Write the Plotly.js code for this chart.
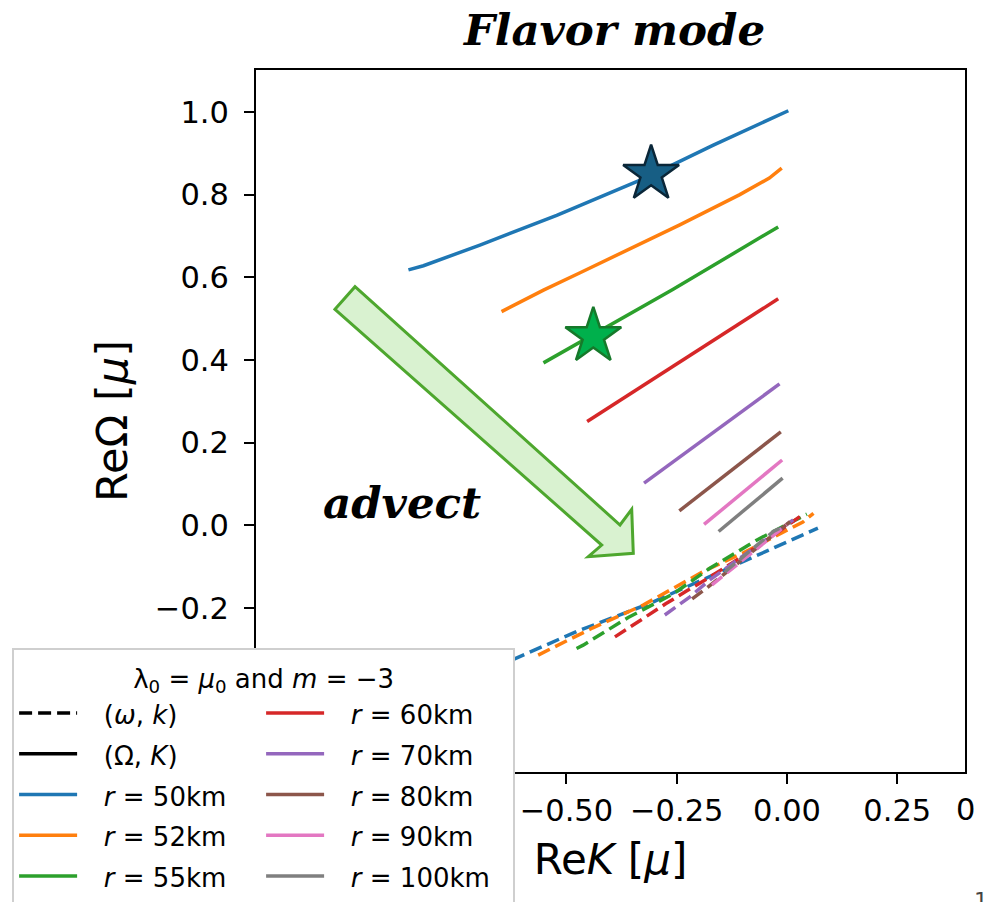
<!DOCTYPE html>
<html><head><meta charset="utf-8">
<script src="https://cdn.plot.ly/plotly-3.0.1.min.js"></script>
<style>html,body{margin:0;padding:0;background:#fff}#chart{width:988px;height:902px}</style>
</head><body><div id="chart"></div>
<script>
// radii and colours
const radii = ['50', '52', '55', '60', '70', '80', '90', '100'];
const colors = ['#1f77b4', '#ff7f0e', '#2ca02c', '#d62728', '#9467bd', '#8c564b', '#e377c2', '#7f7f7f'];
const ranks = [5, 7, 9, 2, 4, 6, 8, 10];

// solid lines (Re K, Re Omega)
const K50 = [-0.858, -0.824, -0.696, -0.522, -0.318, -0.167, 0.003];
const Om50 = [0.618, 0.628, 0.678, 0.750, 0.842, 0.920, 1.003];
const K52 = [-0.647, -0.552, -0.469, -0.243, -0.107, -0.040, -0.012];
const Om52 = [0.517, 0.569, 0.611, 0.727, 0.800, 0.840, 0.864];
const K55 = [-0.552, -0.258, -0.020];
const Om55 = [0.393, 0.571, 0.722];
const K60 = [-0.453, -0.243, -0.020];
const Om60 = [0.251, 0.396, 0.548];
const K70 = [-0.324, -0.017];
const Om70 = [0.102, 0.342];
const K80 = [-0.244, -0.014];
const Om80 = [0.035, 0.226];
const K90 = [-0.188, -0.011];
const Om90 = [0.002, 0.158];
const K100 = [-0.155, -0.010];
const Om100 = [-0.015, 0.114];

// dashed lines (Re k, Re omega)
const k50 = [-0.78, -0.605, -0.477, -0.311, -0.091, 0.007, 0.070];
const w50 = [-0.40, -0.318, -0.257, -0.189, -0.084, -0.036, -0.007];
const k52 = [-0.564, -0.440, -0.326, -0.190, -0.100, 0.036, 0.060];
const w52 = [-0.314, -0.248, -0.193, -0.112, -0.067, 0.008, 0.029];
const k55 = [-0.477, -0.462, -0.360, -0.258, -0.175, -0.069, 0.045];
const w55 = [-0.298, -0.290, -0.223, -0.166, -0.104, -0.036, 0.027];
const k60 = [-0.390, -0.324, -0.275, -0.226, -0.182, -0.114, -0.023, 0.029];
const w60 = [-0.270, -0.223, -0.190, -0.158, -0.130, -0.084, -0.019, 0.021];
const k70 = [-0.277, -0.220, -0.175, -0.091, 0.014];
const w70 = [-0.217, -0.173, -0.132, -0.068, 0.013];
const k80 = [-0.215, -0.180, 0.007];
const w80 = [-0.178, -0.150, 0.009];
const k90 = [-0.170, -0.046, -0.001];
const w90 = [-0.144, -0.036, 0.001];
const k100 = [-0.141, -0.031, -0.008];
const w100 = [-0.113, -0.015, -0.003];

// stars
const starK = [-0.308, -0.439];
const starOm = [0.850, 0.4575];
const starFill = ['#175e84', '#00b04c'];
const starEdge = ['#0a2638', '#16792a'];

// advect arrow outline (data coords)
const arrowK = [-1.0245, -0.9791, -0.3785, -0.3520, -0.3484, -0.4504, -0.4200];
const arrowOm = [0.5226, 0.5773, 0.0007, 0.0387, -0.0677, -0.0760, -0.0477];

const solidK = [K50, K52, K55, K60, K70, K80, K90, K100];
const solidOm = [Om50, Om52, Om55, Om60, Om70, Om80, Om90, Om100];
const dashK = [k50, k52, k55, k60, k70, k80, k90, k100];
const dashW = [w50, w52, w55, w60, w70, w80, w90, w100];

const LW = 3.5;
const DASH = '13px,6px';
const GAP = '\u00a0\u00a0\u2009';
const span = t => '<span style="font-size:26px">' + GAP + t + '</span>';

const traces = [];
traces.push({x: [null], y: [null], mode: 'lines', name: span('(<i>ω</i>, <i>k</i>)'),
  line: {color: 'black', width: LW, dash: DASH}, legendrank: 1});
traces.push({x: [null], y: [null], mode: 'lines', name: span('(Ω, <i>K</i>)'),
  line: {color: 'black', width: LW}, legendrank: 3});
for (let i = 0; i < radii.length; i++) {
  traces.push({x: solidK[i], y: solidOm[i], mode: 'lines', name: span('<i>r</i> = ' + radii[i] + 'km'),
    line: {color: colors[i], width: LW}, legendrank: ranks[i]});
}
for (let i = 0; i < radii.length; i++) {
  traces.push({x: dashK[i], y: dashW[i], mode: 'lines', showlegend: false,
    line: {color: colors[i], width: LW, dash: DASH}});
}
traces.push({x: starK, y: starOm, mode: 'markers', showlegend: false,
  marker: {symbol: 'star', size: 42, color: starFill, line: {color: starEdge, width: 2.5}}});

let path = '';
for (let i = 0; i < arrowK.length; i++) path += (i ? 'L' : 'M') + arrowK[i] + ',' + arrowOm[i];
path += 'Z';

const serifBI = {family: 'DejaVu Serif', size: 43.5, weight: 'bold', style: 'italic', color: 'black'};

const layout = {
  width: 988, height: 902,
  margin: {l: 256, r: 23, t: 70, b: 130, autoexpand: false},
  paper_bgcolor: 'white', plot_bgcolor: 'white',
  font: {family: 'DejaVu Sans', color: 'black'},
  title: {text: 'Flavor mode', font: serifBI,
    x: 0.622, xref: 'container', xanchor: 'center', y: 1 - 30 / 902, yref: 'container', yanchor: 'middle'},
  xaxis: {range: [-1.2035, 0.4034], tick0: 0, dtick: 0.25, tickformat: '.2f', ticks: 'outside', ticklen: 10,
    tickwidth: 2, tickcolor: 'black', showline: true, linewidth: 2, linecolor: 'black', mirror: true,
    showgrid: false, zeroline: false, tickfont: {size: 30.5, family: 'DejaVu Sans'},
    title: {text: 'Re<i>K</i> [<i>μ</i>]', font: {size: 42, family: 'DejaVu Sans'}, standoff: 18}},
  yaxis: {range: [-0.5969, 1.1016], tick0: 0, dtick: 0.2, tickformat: '.1f', ticks: 'outside', ticklen: 10,
    tickwidth: 2, tickcolor: 'black', showline: true, linewidth: 2, linecolor: 'black', mirror: true,
    showgrid: false, zeroline: false, tickfont: {size: 30.5, family: 'DejaVu Sans'}, ticklabelstandoff: 9,
    title: {text: 'ReΩ [<i>μ</i>]', font: {size: 43, family: 'DejaVu Sans'}, standoff: 14}},
  legend: {x: -0.344, y: 0.1766, xanchor: 'left', yanchor: 'top', orientation: 'h',
    entrywidth: 0.5, entrywidthmode: 'fraction', bgcolor: 'white', bordercolor: '#cfcfcf', borderwidth: 2,
    font: {family: 'DejaVu Sans', size: 29, color: 'black'}, itemwidth: 58, traceorder: 'normal',
    title: {text: '<span style="font-size:26px">λ<sub>0</sub> = <i>μ</i><sub>0</sub> and <i>m</i> = −3</span>',
      side: 'top center', font: {size: 29, family: 'DejaVu Sans', color: 'black'}}},
  shapes: [{type: 'path', xref: 'x', yref: 'y', path: path, fillcolor: '#d9f2d0',
    line: {color: '#4ea72e', width: 3}, layer: 'below'}],
  annotations: [
    {text: 'advect', x: -0.873, y: 0.056, xref: 'x', yref: 'y', showarrow: false, xanchor: 'center', yanchor: 'middle',
      font: serifBI},
    {text: '0', x: (965 - 256) / 709, y: (772 - 809) / 702, xref: 'paper', yref: 'paper', showarrow: false,
      xanchor: 'center', yanchor: 'middle', font: {size: 30.5, family: 'DejaVu Sans', color: 'black'}},
    {text: '1', x: (981 - 256) / 709, y: (772 - 886) / 702, xref: 'paper', yref: 'paper', showarrow: false,
      xanchor: 'center', yanchor: 'top', font: {size: 22, family: 'DejaVu Sans', color: '#444'}}
  ]
};

Plotly.newPlot('chart', traces, layout, {displayModeBar: false, staticPlot: true});
</script>
</body></html>
